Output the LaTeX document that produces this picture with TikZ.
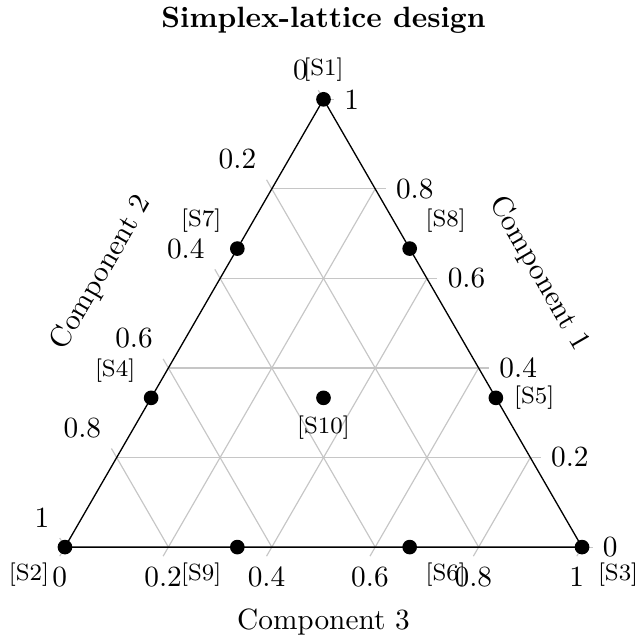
\documentclass[tikz,border=0pt]{standalone}
\usepackage{tikz}
\usetikzlibrary{
  calc
}

\begin{document}
\begin{tikzpicture}[
  font=\normalsize,
  %% Ternary grid and tick lines
  gridline/.style={gray!45, line width=0.4pt},
  %% Outer triangle
  frame/.style={black, line width=0.45pt, line join=round},
  %% Design point marker
  dpoint/.style={circle, fill=black, inner sep=0pt, minimum size=0.176cm},
  %% Point tag (small)
  ptag/.style={font=\footnotesize, text=black},
  %% Tick label
  ticklab/.style={text=black, inner sep=3.33pt}
]
\useasboundingbox (-0.779,-1.115) rectangle (6.931,6.560);
\def\ticklen{0.126}

%% ---- Corners (A: Component 1, B: Component 2, C: Component 3) ----
\coordinate (A) at (3.1,5.369);
\coordinate (B) at (0,0);
\coordinate (C) at (6.2,0);

%% ---- Grid ----
\foreach \v in {0.2,0.4,0.6,0.8} {
  \draw[gridline] ($(B)!\v!(A)$) -- ($(C)!\v!(A)$);
  \draw[gridline] ($(A)!\v!(B)$) -- ($(C)!\v!(B)$);
  \draw[gridline] ($(B)!\v!(C)$) -- ($(A)!\v!(C)$);
}

%% ---- Ticks and tick labels ----
\foreach \v [count=\i] in {0,0.2,0.4,0.6,0.8,1} {
  \coordinate (r\i) at ($(C)!\v!(A)$);
  \draw[gridline] (r\i) -- ++(0:\ticklen)
    node[ticklab, anchor=west] (t1-\i) {\v};
  \coordinate (l\i) at ($(A)!\v!(B)$);
  \draw[gridline] (l\i) -- ++(120:\ticklen)
    node[ticklab, anchor=south east] (t2-\i) {\v};
  \coordinate (b\i) at ($(B)!\v!(C)$);
  \draw[gridline] (b\i) -- ++(240:\ticklen)
    node[ticklab, anchor=north] (t3-\i) {\v};
}

%% ---- Triangle ----
\draw[frame] (A) -- (B) -- (C) -- cycle;

%% ---- Design points ----
\node[dpoint, label={[ptag]above:{[S1]}}]       (S1)  at (A) {};
\node[dpoint, label={[ptag]below left:{[S2]}}]  (S2)  at (B) {};
\node[dpoint, label={[ptag]below right:{[S3]}}] (S3)  at (C) {};
\node[dpoint, label={[ptag]above left:{[S4]}}]  (S4)  at ($(B)!1/3!(A)$) {};
\node[dpoint, label={[ptag]right:{[S5]}}]       (S5)  at ($(C)!1/3!(A)$) {};
\node[dpoint, label={[ptag]below right:{[S6]}}] (S6)  at ($(B)!2/3!(C)$) {};
\node[dpoint, label={[ptag]above left:{[S7]}}]  (S7)  at ($(B)!2/3!(A)$) {};
\node[dpoint, label={[ptag]above right:{[S8]}}] (S8)  at ($(C)!2/3!(A)$) {};
\node[dpoint, label={[ptag]below left:{[S9]}}]  (S9)  at ($(B)!1/3!(C)$) {};
\node[dpoint, label={[ptag]below:{[S10]}}]      (S10) at (barycentric cs:A=1,B=1,C=1) {};

%% ---- Axis labels and title ----
\node[rotate=60]  (ax2) at (0.44,3.29) {Component 2};
\node[rotate=-60] (ax1) at (5.68,3.28) {Component 1};
\node[anchor=base] (ax3) at (3.1,-0.983) {Component 3};
\node[anchor=base, font=\bfseries] (title) at (3.1,6.236) {Simplex-lattice design};

\end{tikzpicture}
\end{document}
